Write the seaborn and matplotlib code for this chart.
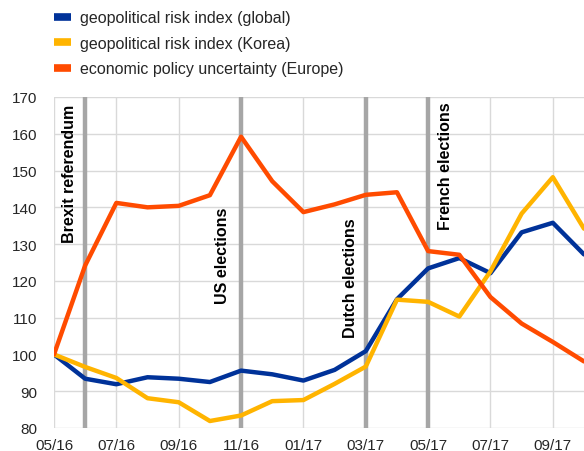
"""
Geopolitical risk and policy uncertainty indices, 05/16 - 10/17 (05/16 = 100).
"""

import numpy as np
import pandas as pd
import matplotlib
matplotlib.use("Agg")
import matplotlib.pyplot as plt
from matplotlib.lines import Line2D
import seaborn as sns

months = ["05/16", "06/16", "07/16", "08/16", "09/16", "10/16", "11/16", "12/16",
          "01/17", "02/17", "03/17", "04/17", "05/17", "06/17", "07/17", "08/17",
          "09/17", "10/17"]

gpr_global = [100, 93.4, 91.9, 93.8, 93.4, 92.5, 95.6, 94.6,
              92.9, 95.8, 100.9, 115.0, 123.4, 126.2, 122.1, 133.2, 135.8, 127.2]
gpr_korea = [100, 96.6, 93.6, 88.1, 87.0, 81.9, 83.4, 87.3,
             87.6, 92.0, 96.7, 114.9, 114.3, 110.3, 122.6, 138.3, 148.2, 134.2]
epu_europe = [100, 124.2, 141.2, 140.0, 140.4, 143.3, 159.2, 147.1,
              138.7, 140.8, 143.4, 144.1, 128.1, 127.1, 115.6, 108.4, 103.4, 98.1]

series_names = ["geopolitical risk index (global)",
                "geopolitical risk index (Korea)",
                "economic policy uncertainty (Europe)"]
series_colors = ["#003299", "#ffb400", "#ff4b00"]

events = ["Brexit referendum", "US elections", "Dutch elections", "French elections"]
event_months = ["06/16", "11/16", "03/17", "05/17"]

tick_labels = months[::2]

# long table for seaborn
x_pos = np.arange(len(months))
df = pd.DataFrame({
    "x": np.tile(x_pos, 3),
    "value": gpr_global + gpr_korea + epu_europe,
    "series": np.repeat(series_names, len(months)),
})

sns.set_style("white")
plt.rcParams["font.family"] = ["Liberation Sans", "DejaVu Sans"]

fig = plt.figure(figsize=(5.84, 4.52), dpi=100)
ax = fig.add_axes([54 / 584, 23 / 452, 530 / 584, 331 / 452])

# event markers behind the data
for name, m in zip(events, event_months):
    ax.axvline(months.index(m), color="#a6a6a6", lw=3.2, zorder=1)

sns.lineplot(data=df, x="x", y="value", hue="series", hue_order=series_names,
             palette=series_colors, lw=3.2, ax=ax, legend=False, zorder=3)

# event labels (offset in months from the event line, top of text)
label_offsets = [-0.49, -0.6, -0.5, 0.55]
label_tops = [168.3, 140.1, 137.4, 168.8]
for name, m, dx, top in zip(events, event_months, label_offsets, label_tops):
    ax.text(months.index(m) + dx, top, name, rotation=90, ha="center", va="top",
            fontsize=11.5, fontweight="bold", color="black", zorder=4)

ax.set_xlim(0, len(months) - 1)
ax.set_ylim(80, 170)
ax.set_xticks(x_pos[::2])
ax.set_xticklabels(tick_labels)
ax.set_yticks(np.arange(80, 171, 10))
ax.tick_params(axis="x", length=0, pad=7, labelsize=11)
ax.tick_params(axis="y", length=0, pad=12, labelsize=11)
ax.set_xlabel("")
ax.set_ylabel("")
ax.grid(True, color="#d9d9d9", lw=1)
for s in ax.spines.values():
    s.set_visible(False)

handles = [Line2D([0], [0], color=c, lw=5.5, solid_capstyle="butt") for c in series_colors]
fig.legend(handles, series_names, loc="upper left", bbox_to_anchor=(0.075, 0.998),
           frameon=False, fontsize=11.5, handlelength=1.05, handletextpad=0.55,
           labelspacing=0.66, borderaxespad=0.25)

fig.savefig("out.png", dpi=100)
plt.close(fig)
